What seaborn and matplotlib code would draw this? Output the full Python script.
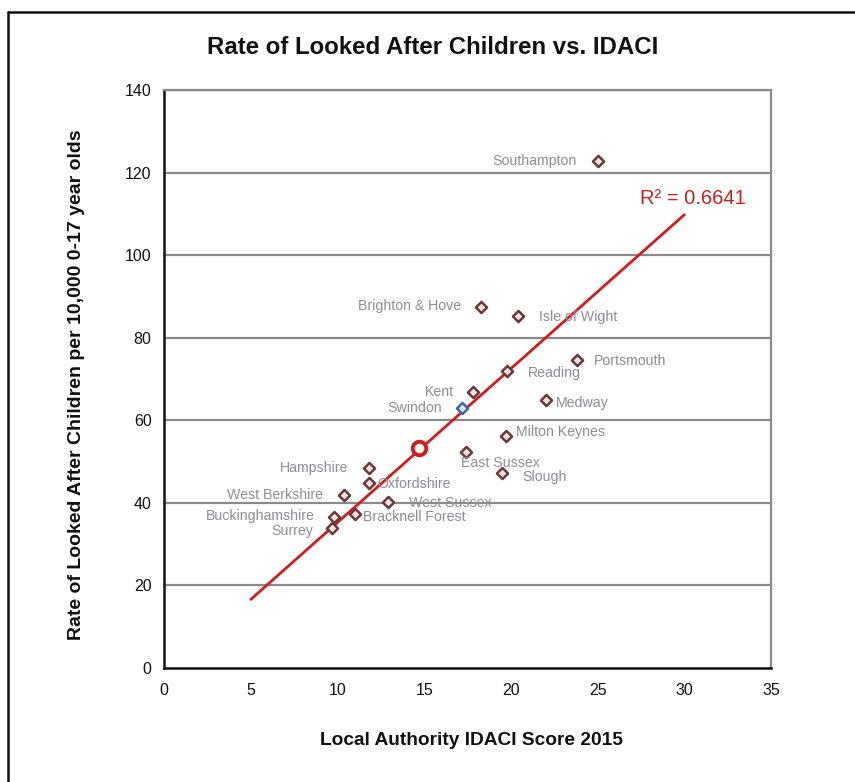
import numpy as np
import pandas as pd
import matplotlib
matplotlib.use("Agg")
import matplotlib.pyplot as plt
from matplotlib.lines import Line2D
import seaborn as sns

# Local authorities: IDACI score 2015 vs. looked-after children rate
authorities = [
    "Southampton", "Brighton & Hove", "Isle of Wight", "Portsmouth", "Reading",
    "Kent", "Swindon", "Medway", "Milton Keynes", "East Sussex", "Slough",
    "Hampshire", "Oxfordshire", "West Berkshire", "West Sussex",
    "Bracknell Forest", "Buckinghamshire", "Surrey",
]
idaci = [25.0, 18.3, 20.4, 23.8, 19.8, 17.8, 17.2, 22.0, 19.7, 17.4, 19.5,
         11.8, 11.8, 10.4, 12.9, 11.0, 9.8, 9.7]
lac_rate = [122.8, 87.5, 85.2, 74.6, 71.9, 66.9, 62.9, 64.9, 56.2, 52.2, 47.3,
            48.4, 44.7, 41.9, 40.1, 37.2, 36.5, 34.0]
highlighted = ["Swindon"]

# Regional average point
region_idaci = [14.7]
region_rate = [53.2]

r_squared_text = "R² = 0.6641"
trend_range = [5, 30]

x_ticks = [0, 5, 10, 15, 20, 25, 30, 35]
y_ticks = [0, 20, 40, 60, 80, 100, 120, 140]

# Label offsets (pixels) and alignment for each authority label
label_layout = {
    "Southampton":      (-21, 0, "right"),
    "Brighton & Hove":  (-20, 1, "right"),
    "Isle of Wight":    (21, -1, "left"),
    "Portsmouth":       (17, -1, "left"),
    "Reading":          (20, -2, "left"),
    "Kent":             (-19, 0, "right"),
    "Swindon":          (-20, 0, "right"),
    "Medway":           (10, -3, "left"),
    "Milton Keynes":    (10, 4, "left"),
    "East Sussex":      (-5, -11, "left"),
    "Slough":           (20, -4, "left"),
    "Hampshire":        (-20, 0, "right"),
    "Oxfordshire":      (9, -1, "left"),
    "West Berkshire":   (-21, 0, "right"),
    "West Sussex":      (21, -1, "left"),
    "Bracknell Forest": (8, -3, "left"),
    "Buckinghamshire":  (-19, 1, "right"),
    "Surrey":           (-19, -3, "right"),
}

df = pd.DataFrame({"authority": authorities, "idaci": idaci, "rate": lac_rate})
df["group"] = np.where(df["authority"].isin(highlighted), "highlight", "other")

sns.set_style("white")
plt.rcParams["font.family"] = ["Liberation Sans", "DejaVu Sans"]

fig = plt.figure(figsize=(8.55, 7.82), dpi=100)
ax = fig.add_axes([164 / 855, 1 - 668 / 782, (771 - 164) / 855, (668 - 90) / 782])

# Horizontal gridlines
for yv in y_ticks[1:]:
    ax.axhline(yv, color="#8a8a8a", lw=1.6, zorder=0)

# Least-squares trend line
slope, intercept = np.polyfit(df["idaci"], df["rate"], 1)
trend = pd.DataFrame({"x": trend_range})
trend["y"] = intercept + slope * trend["x"]
sns.lineplot(data=trend, x="x", y="y", color="#d01c1c", lw=2.0, ax=ax, zorder=3)

sns.scatterplot(data=df[df["group"] == "other"], x="idaci", y="rate", marker="D",
                s=32, color="#f3e3e3", edgecolor="#6a3838", linewidth=1.8,
                ax=ax, zorder=4)
sns.scatterplot(data=df[df["group"] == "highlight"], x="idaci", y="rate", marker="D",
                s=32, color="#dde8f7", edgecolor="#3e64a8", linewidth=1.8,
                ax=ax, zorder=4)
sns.scatterplot(x=region_idaci, y=region_rate, marker="o", s=95, color="white",
                edgecolor="#d01c1c", linewidth=2.8, ax=ax, zorder=5)

for name, xv, yv in zip(df["authority"], df["idaci"], df["rate"]):
    dx, dy, ha = label_layout[name]
    ax.annotate(name, (xv, yv), xytext=(dx, dy), textcoords="offset pixels",
                ha=ha, va="center", fontsize=10.2, color="#8c8c95", zorder=6)

ax.annotate(r_squared_text, (trend_range[1], intercept + slope * trend_range[1]),
            xytext=(-44, 16), textcoords="offset pixels", ha="left", va="center",
            fontsize=14.5, color="#d01c1c")

ax.set_xlim(0, 35)
ax.set_ylim(0, 140)
ax.set_xticks(x_ticks)
ax.set_yticks(y_ticks)
ax.tick_params(axis="both", labelsize=11.5, length=5, width=1, color="#8a8a8a",
               direction="out", pad=4, labelcolor="#111111")
ax.tick_params(axis="x", pad=6)

for side in ["left", "bottom"]:
    ax.spines[side].set_color("#111111")
    ax.spines[side].set_linewidth(1.8)
for side in ["top", "right"]:
    ax.spines[side].set_color("#8a8a8a")
    ax.spines[side].set_linewidth(1.6)

ax.set_xlabel("Local Authority IDACI Score 2015", fontsize=13.8, fontweight="bold",
              color="#111111")
ax.set_ylabel("Rate of Looked After Children per 10,000 0-17 year olds",
              fontsize=14, fontweight="bold", color="#111111")
ax.xaxis.set_label_coords(0.507, -0.11)
ax.yaxis.set_label_coords(-0.130, 0.49)

fig.text(433 / 855, 1 - 48 / 782, "Rate of Looked After Children vs. IDACI",
         ha="center", va="center", fontsize=17.3, fontweight="bold", color="#111111")

# Outer chart frame
fig.add_artist(Line2D([8 / 855, 8 / 855], [0, 1 - 12 / 782], transform=fig.transFigure,
                      color="#111111", lw=1.8))
fig.add_artist(Line2D([8 / 855, 1], [1 - 12 / 782, 1 - 12 / 782], transform=fig.transFigure,
                      color="#111111", lw=1.8))

fig.savefig("out.png", dpi=100)
